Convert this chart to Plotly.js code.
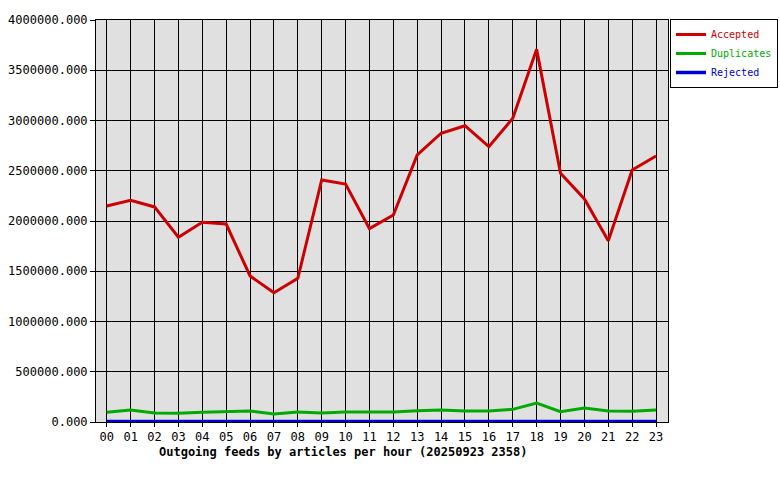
<!DOCTYPE html>
<html>
<head>
<meta charset="utf-8">
<script src="https://cdn.plot.ly/plotly-3.0.1.min.js"></script>
<style>html,body{margin:0;padding:0;background:#fff;}</style>
</head>
<body>
<div id="chart" style="width:780px;height:480px;"></div>
<script>
const hours = ["00","01","02","03","04","05","06","07","08","09","10","11","12","13","14","15","16","17","18","19","20","21","22","23"];
const accepted = [2149000,2206000,2140000,1838000,1987000,1970000,1453000,1287000,1430000,2408000,2368000,1924000,2060000,2657000,2873000,2948000,2739000,3022000,3708000,2474000,2219000,1804000,2507000,2647000];
const duplicates = [96000,119000,90000,86000,96000,99000,109000,80000,99000,90000,99000,99000,99000,112000,119000,109000,109000,126000,189000,103000,139000,109000,106000,119000];
const rejected = [6000,6000,6000,6000,6000,6000,6000,6000,6000,6000,6000,6000,6000,6000,6000,6000,6000,6000,6000,6000,6000,6000,6000,6000];
const yTicks = [0,500000,1000000,1500000,2000000,2500000,3000000,3500000,4000000];

const xIdx = hours.map((h,i)=>i);
const mono = "DejaVu Sans Mono, monospace";

const traces = [
  {x:xIdx, y:accepted, name:'<span style="color:#cc0000">Accepted</span>', mode:'lines', line:{color:'#cc0000', width:3}},
  {x:xIdx, y:duplicates, name:'<span style="color:#00aa00">Duplicates</span>', mode:'lines', line:{color:'#00aa00', width:3}},
  {x:xIdx, y:rejected, name:'<span style="color:#0000cc">Rejected</span>', mode:'lines', line:{color:'#0000cc', width:3.5}}
];

const layout = {
  width:780, height:480,
  margin:{l:96, r:112, t:20, b:58, autoexpand:false},
  paper_bgcolor:'#ffffff',
  plot_bgcolor:'#e0e0e0',
  font:{family:mono, size:12, color:'#000'},
  showlegend:true,
  legend:{x:1.0035, y:1.0025, xanchor:'left', yanchor:'top', bgcolor:'#ffffff', bordercolor:'#000', borderwidth:1,
          font:{family:mono, size:10}, itemwidth:30, tracegroupgap:0},
  xaxis:{range:[-0.45,23.5], tickvals:xIdx, ticktext:hours, showgrid:true, gridcolor:'#000', gridwidth:1,
         zeroline:false, showline:true, linecolor:'#000', linewidth:1, mirror:true, ticks:'outside', ticklen:4, tickcolor:'#000',
         tickfont:{family:mono, size:12}},
  yaxis:{range:[0,4000000], tickvals:yTicks, ticktext:yTicks.map(v=>v.toFixed(3)), showgrid:true, gridcolor:'#000', gridwidth:1,
         zeroline:false, showline:true, linecolor:'#000', linewidth:1, mirror:true, ticks:'outside', ticklen:5, tickcolor:'#000',
         tickfont:{family:mono, size:12}},
  annotations:[{text:'<b>Outgoing feeds by articles per hour (20250923 2358)</b>', xref:'paper', yref:'paper', x:0.432, y:-0.0746,
                xanchor:'center', yanchor:'middle', showarrow:false, font:{family:mono, size:12, color:'#000'}}]
};

Plotly.newPlot('chart', traces, layout, {displayModeBar:false, staticPlot:true});
</script>
</body>
</html>
